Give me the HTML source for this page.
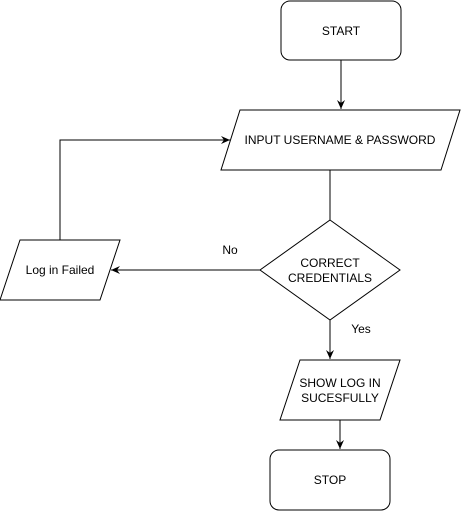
<!DOCTYPE html>
<html><head><style>body{margin:0;background:#fff}svg{display:block}</style></head><body>
<svg width="461" height="511" xmlns="http://www.w3.org/2000/svg" font-family="Liberation Sans, Arial, sans-serif" font-size="12" fill="none" stroke="#000">
<defs><marker id="a" markerWidth="10" markerHeight="10" refX="9" refY="5" orient="auto" markerUnits="userSpaceOnUse"><path d="M0,1 L9,5 L0,9 L3,5 Z" fill="#000" stroke="none"/></marker></defs>
<rect x="281" y="1" width="120" height="59" rx="9" fill="#fff"/>
<line x1="341" y1="60" x2="341" y2="109" marker-end="url(#a)"/>
<polygon points="240,110 460,110 441,170 221,170" fill="#fff"/>
<line x1="330" y1="170" x2="330" y2="220"/>
<polygon points="330,220 400,270 330,320 260,270" fill="#fff"/>
<polygon points="20,240 120,240 100,300 0,300" fill="#fff"/>
<line x1="260" y1="270" x2="111" y2="270" marker-end="url(#a)"/>
<polyline points="60,240 60,140 230,140" marker-end="url(#a)"/>
<line x1="330" y1="320" x2="330" y2="359" marker-end="url(#a)"/>
<polygon points="300,360 400,360 380,420 280,420" fill="#fff"/>
<line x1="340" y1="420" x2="340" y2="449" marker-end="url(#a)"/>
<rect x="270" y="450" width="120" height="60" rx="9" fill="#fff"/>
<g fill="#000" stroke="none" text-anchor="middle">
<text x="341" y="35">START</text>
<text x="340" y="144">INPUT USERNAME &amp; PASSWORD</text>
<text x="330" y="267">CORRECT</text>
<text x="330" y="282">CREDENTIALS</text>
<text x="60" y="274">Log in Failed</text>
<text x="230" y="254">No</text>
<text x="361" y="333">Yes</text>
<text x="340" y="387">SHOW LOG IN</text>
<text x="340" y="402">SUCESFULLY</text>
<text x="330" y="484">STOP</text>
</g>
</svg>
</body></html>
